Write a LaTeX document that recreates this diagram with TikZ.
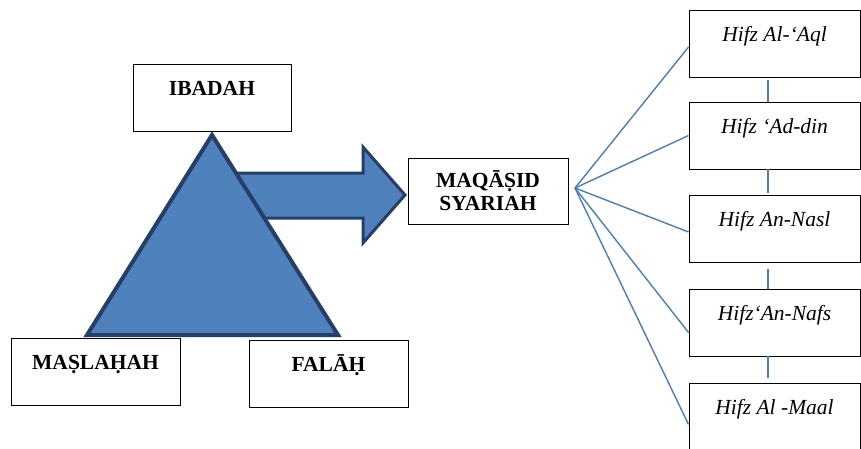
\documentclass[tikz,border=0pt]{standalone}
\usepackage{fontspec}
\setmainfont{Liberation Serif}
\definecolor{triblue}{HTML}{4F81BD}
\definecolor{triedge}{HTML}{263F66}
\definecolor{linkblue}{HTML}{4A7EBB}
\tikzset{
  box/.style={draw=black, line width=0.9pt, rectangle, inner sep=0pt,
    text height=31pt, text depth=36pt, font=\fontsize{21.5}{23}\selectfont\bfseries},
  hifz/.style={box, font=\fontsize{21.5}{23}\selectfont\itshape,
    minimum width=171pt},
  link/.style={draw=linkblue, line width=1.4pt},
}
\begin{document}
\begin{tikzpicture}[x=1pt, y=-1pt]
\useasboundingbox (0,0) rectangle (861,448);

\def\xl{87};
\def\xt{212};
\def\xr{338};
\def\yt{135};
\def\yb{335};

\def\xh{774.5};

% arrow behind the triangle
\filldraw[fill=triblue, draw=triedge, line width=3pt, line join=miter]
  (225,173) -- (363,173) -- (363,147) -- (405,195) -- (363,243) -- (363,218)
  -- (225,218) -- cycle;
\filldraw[fill=triblue, draw=triedge, line width=4pt, line join=miter]
  (\xt,\yt) -- (\xl,\yb) -- (\xr,\yb) -- cycle;

\node[box, minimum width=158pt] (ibadah) at (\xt,97.5) {IBADAH};
\node[box, minimum width=169pt] (maslahah) at (95.5,371.5) {MA\d{S}LA\d{H}AH};
\node[box, minimum width=159pt] (falah) at (328.5,373.5) {FAL\={A}\d{H}};

\node[draw=black, line width=0.9pt, inner sep=0pt, minimum width=160pt,
  minimum height=66pt, align=center, font=\fontsize{21.5}{23}\selectfont\bfseries]
  (maqasid) at (488,191) {MAQ\={A}\d{S}ID\\SYARIAH};

\node[hifz] (aql) at (\xh,44) {Hifz Al-‘Aql};
\node[hifz] (din) at (\xh,135.5) {Hifz ‘Ad-din};
\node[hifz] (nasl) at (\xh,229) {Hifz An-Nasl};
\node[hifz] (nafs) at (\xh,322.5) {Hifz‘An-Nafs};
\node[hifz] (maal) at (\xh,416.5) {Hifz Al -Maal};

\coordinate (fan) at (575,188);

\draw[link] (fan) -- ([yshift=-3pt]aql.west);
\draw[link] (fan) -- (din.west);
\draw[link] (fan) -- ([yshift=-3pt]nasl.west);
\draw[link] (fan) -- ([yshift=-10pt]nafs.west);
\draw[link] (fan) -- ([yshift=-8pt]maal.west);

\draw[link] ([xshift=-6.5pt,yshift=-2pt]aql.south) -- ([xshift=-6.5pt]din.north);
\draw[link] ([xshift=-6.5pt]din.south) -- ([xshift=-6.5pt,yshift=2pt]nasl.north);
\draw[link] ([xshift=-6.5pt,yshift=-6pt]nasl.south) -- ([xshift=-6.5pt]nafs.north);
\draw[link] ([xshift=-6.5pt]nafs.south) -- ([xshift=-6.5pt,yshift=5pt]maal.north);

\end{tikzpicture}
\end{document}
